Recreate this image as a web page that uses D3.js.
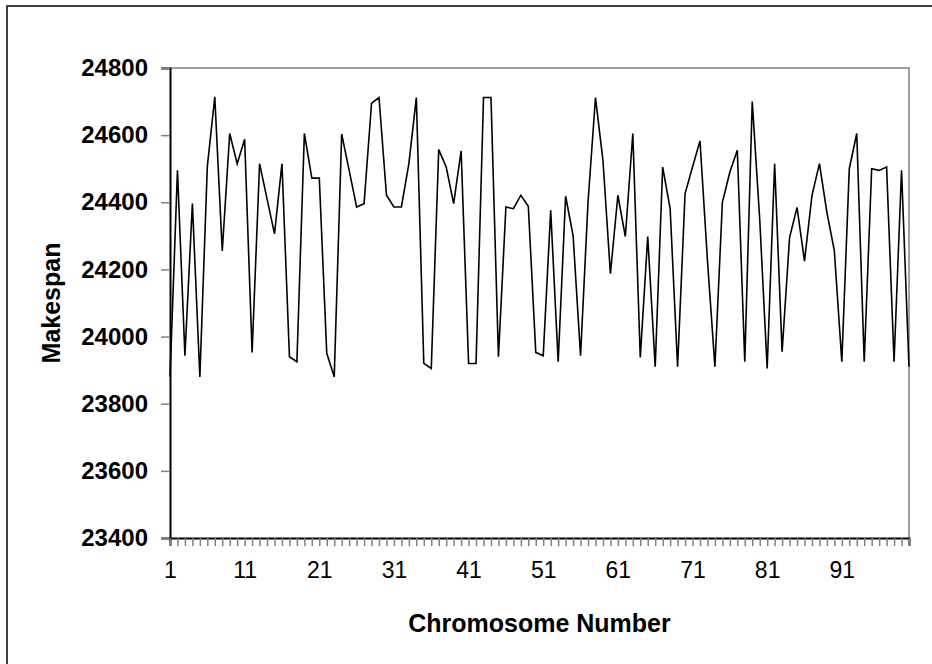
<!DOCTYPE html>
<html>
<head>
<meta charset="utf-8">
<script src="https://cdn.jsdelivr.net/npm/d3@7"></script>
<style>
  body { margin: 0; background: #fff; }
  svg { display: block; font-family: "Liberation Sans", Arial, sans-serif; }
</style>
</head>
<body>
<svg id="chart"></svg>
<script>
// chromosome index 1..100
const chromosomes = d3.range(1, 101);

// makespan, one per chromosome
const makespan = [
  23880, 24495, 23943, 24396, 23880, 24507, 24714, 24255, 24605, 24515,
  24588, 23953, 24515, 24410, 24306, 24515, 23940, 23925, 24605, 24472,
  24472, 23950, 23880, 24603, 24495, 24386, 24396, 24695, 24712, 24421,
  24386, 24386, 24515, 24712, 23920, 23905, 24557, 24505, 24396, 24553,
  23920, 23920, 24712, 24712, 23940, 24386, 24381, 24421, 24388, 23953,
  23943, 24376, 23925, 24418, 24301, 23943, 24400, 24712, 24525, 24187,
  24421, 24298, 24605, 23938, 24298, 23910, 24505, 24381, 23910, 24426,
  24505, 24583, 24227, 23910, 24400, 24490, 24555, 23925, 24700, 24350,
  23905, 24515, 23955, 24295, 24385, 24225, 24420, 24515, 24370, 24255,
  23925, 24500, 24605, 23925, 24500, 24495, 24505, 23925, 24495, 23910
];

const yTicks = [23400, 23600, 23800, 24000, 24200, 24400, 24600, 24800];
const xLabels = [1, 11, 21, 31, 41, 51, 61, 71, 81, 91];

class LineChart {
  margin = { top: 68, right: 23, bottom: 126, left: 170 };

  constructor(svg, width = 932, height = 664) {
    this.svg = d3.select(svg);
    this.width = width;
    this.height = height;
  }

  initialize() {
    this.svg.attr("width", this.width).attr("height", this.height);
    this.innerW = this.width - this.margin.left - this.margin.right;
    this.innerH = this.height - this.margin.top - this.margin.bottom;

    // outer chart frame (runs off the right and bottom edge)
    this.svg.append("rect")
      .attr("x", 7).attr("y", 6)
      .attr("width", 1000).attr("height", 1000)
      .attr("fill", "#fff")
      .attr("stroke", "#000")
      .attr("stroke-width", 1.5);

    this.container = this.svg.append("g")
      .attr("transform", `translate(${this.margin.left}, ${this.margin.top})`);

    this.xScale = d3.scalePoint().domain(chromosomes).range([0, this.innerW]);
    this.yScale = d3.scaleLinear().domain([23400, 24800]).range([this.innerH, 0]);
  }

  update() {
    const x = this.xScale, y = this.yScale;
    const g = this.container;

    // top and right border of plot area
    g.append("path")
      .attr("d", `M0,0H${this.innerW}V${this.innerH}`)
      .attr("fill", "none")
      .attr("stroke", "#808080")
      .attr("stroke-width", 1.5);

    // y axis
    const yAxis = g.append("g")
      .call(d3.axisLeft(y).tickValues(yTicks).tickSize(9).tickPadding(13).tickFormat(d3.format("d")));
    yAxis.select(".domain").attr("stroke", "#000").attr("stroke-width", 2);
    yAxis.selectAll(".tick line").attr("stroke", "#808080").attr("stroke-width", 1.5);
    yAxis.selectAll(".tick text")
      .attr("fill", "#000")
      .style("font-size", "24px")
      .style("font-weight", "bold");

    // x axis, tick on every chromosome, label every 10
    const xAxis = g.append("g")
      .attr("transform", `translate(0, ${this.innerH})`)
      .call(d3.axisBottom(x).tickSize(8).tickPadding(16)
        .tickFormat((d) => (xLabels.includes(d) ? d : "")));
    xAxis.select(".domain").attr("stroke", "#000").attr("stroke-width", 2);
    xAxis.selectAll(".tick line").attr("stroke", "#808080").attr("stroke-width", 1.5);
    xAxis.selectAll(".tick text")
      .attr("fill", "#000")
      .style("font-size", "23px");

    // the series
    const line = d3.line()
      .x((d, i) => x(chromosomes[i]))
      .y((d) => y(d));
    g.append("path")
      .datum(makespan)
      .attr("d", line)
      .attr("fill", "none")
      .attr("stroke", "#000")
      .attr("stroke-width", 1.6)
      .attr("stroke-linejoin", "miter");

    // axis titles
    this.svg.append("text")
      .attr("x", this.margin.left + this.innerW / 2)
      .attr("y", 632)
      .attr("text-anchor", "middle")
      .style("font-size", "25px")
      .style("font-weight", "bold")
      .text("Chromosome Number");

    this.svg.append("text")
      .attr("transform", `translate(60, ${this.margin.top + this.innerH / 2}) rotate(-90)`)
      .attr("text-anchor", "middle")
      .style("font-size", "25px")
      .style("font-weight", "bold")
      .text("Makespan");
  }
}

const chart = new LineChart("#chart");
chart.initialize();
chart.update();
</script>
</body>
</html>
